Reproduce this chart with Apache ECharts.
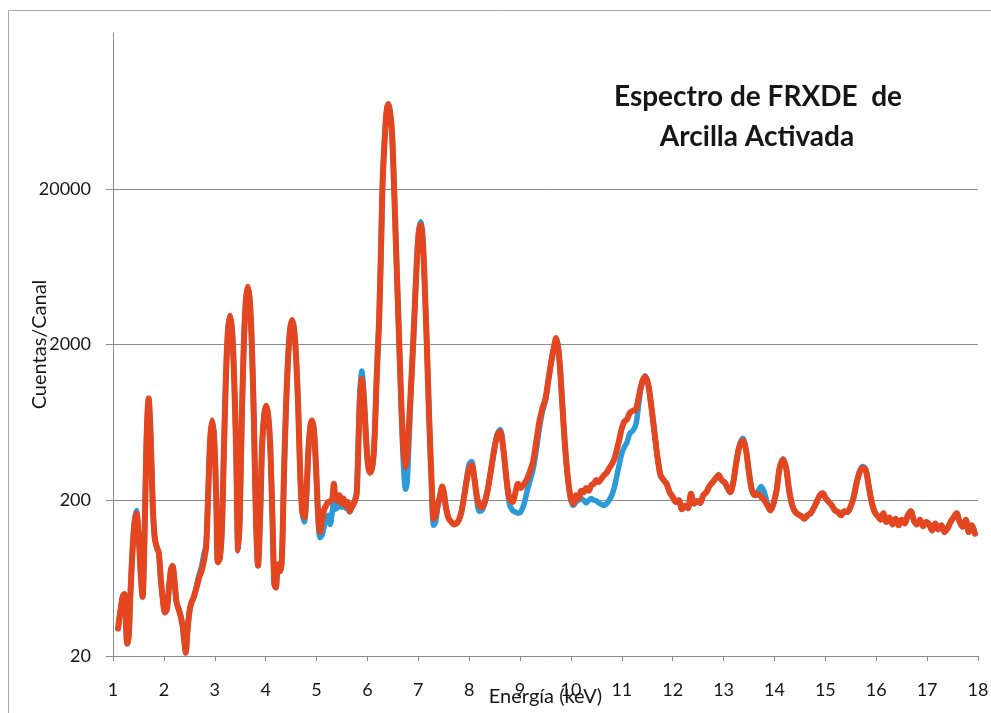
<!DOCTYPE html>
<html>
<head>
<meta charset="utf-8">
<title>Espectro de FRXDE de Arcilla Activada</title>
<script src="https://cdn.jsdelivr.net/npm/echarts@6/dist/echarts.min.js"></script>
<style>
  html, body { margin: 0; padding: 0; background: #ffffff; }
  #chart { width: 991px; height: 713px; }
</style>
</head>
<body>
<div id="chart"></div>
<script>
// Energy axis ticks (keV) and count ticks (log scale)
const energyTicks = [1, 2, 3, 4, 5, 6, 7, 8, 9, 10, 11, 12, 13, 14, 15, 16, 17, 18];
const countTicks = [20, 200, 2000, 20000];

// Spectrum of the activated clay, second measurement [energy keV, counts/channel]
const spectrumRed = [
  [1.10,30],[1.13,36],[1.16,42],[1.19,48],[1.22,50],[1.25,35],[1.28,24],[1.31,27],[1.34,48],[1.38,90],
  [1.42,140],[1.46,165],[1.50,125],[1.54,72],[1.58,48],[1.62,120],[1.66,500],[1.70,900],[1.74,520],[1.78,190],
  [1.82,115],[1.86,100],[1.90,92],[1.94,62],[1.98,46],[2.02,38],[2.06,40],[2.10,55],[2.14,72],[2.17,76],
  [2.21,60],[2.25,44],[2.29,40],[2.33,36],[2.37,31],[2.40,25],[2.43,21],[2.46,28],[2.50,38],[2.54,44],
  [2.58,47],[2.62,52],[2.66,58],[2.70,65],[2.74,70],[2.78,80],[2.83,100],[2.87,220],[2.91,490],[2.95,650],
  [2.99,490],[3.03,200],[3.06,80],[3.10,85],[3.14,130],[3.18,420],[3.22,1260],[3.26,2460],[3.30,3060],[3.34,2460],
  [3.38,1260],[3.42,420],[3.46,95],[3.49,150],[3.53,640],[3.57,1940],[3.61,3780],[3.65,4700],[3.69,3780],[3.73,1940],
  [3.77,640],[3.81,150],[3.85,76],[3.89,150],[3.93,445],[3.97,700],[4.01,810],[4.05,700],[4.09,445],[4.13,170],
  [4.17,58],[4.20,55],[4.23,72],[4.26,78],[4.29,70],[4.32,85],[4.36,290],[4.40,790],[4.44,1620],[4.48,2490],
  [4.52,2870],[4.56,2490],[4.60,1620],[4.64,790],[4.68,290],[4.72,170],[4.76,155],[4.80,220],[4.84,420],[4.88,600],
  [4.91,650],[4.95,560],[4.99,330],[5.03,170],[5.07,125],[5.11,150],[5.15,175],[5.19,185],[5.23,195],[5.27,197],
  [5.31,205],[5.34,255],[5.37,210],[5.41,200],[5.45,215],[5.49,190],[5.53,205],[5.57,185],[5.61,195],[5.65,170],
  [5.69,180],[5.73,190],[5.76,200],[5.79,220],[5.82,420],[5.85,850],[5.89,1200],[5.93,900],[5.97,520],[6.01,340],
  [6.05,300],[6.09,320],[6.12,380],[6.15,600],[6.18,1180],[6.20,1700],[6.23,2870],[6.27,8900],[6.30,22500],[6.35,48000],
  [6.38,64000],[6.41,70000],[6.44,64000],[6.48,48000],[6.52,22500],[6.56,8900],[6.61,2870],[6.65,1180],[6.69,550],[6.72,380],
  [6.75,325],[6.78,380],[6.81,560],[6.84,850],[6.87,1300],[6.92,2870],[6.97,6700],[7.01,10500],[7.05,11800],[7.08,10200],
  [7.11,6700],[7.14,3600],[7.17,1900],[7.21,730],[7.26,270],[7.30,152],[7.34,160],[7.38,185],[7.43,215],[7.47,245],
  [7.51,215],[7.55,175],[7.60,152],[7.65,145],[7.70,140],[7.75,142],[7.80,150],[7.85,170],[7.90,210],[7.95,265],
  [8.00,320],[8.05,335],[8.10,280],[8.15,215],[8.20,185],[8.25,180],[8.30,192],[8.36,230],[8.42,300],[8.48,400],
  [8.55,520],[8.61,550],[8.67,430],[8.73,280],[8.79,205],[8.85,195],[8.91,225],[8.96,255],[9.02,240],[9.08,255],
  [9.14,275],[9.20,310],[9.26,360],[9.32,480],[9.38,640],[9.44,780],[9.50,900],[9.56,1200],[9.62,1600],[9.67,1950],
  [9.71,2200],[9.75,1900],[9.79,1350],[9.85,650],[9.90,380],[9.95,260],[10.00,205],[10.05,190],[10.10,215],[10.15,205],
  [10.20,230],[10.25,225],[10.30,240],[10.35,230],[10.40,250],[10.45,255],[10.50,270],[10.55,262],[10.60,275],[10.65,290],
  [10.70,300],[10.75,320],[10.80,340],[10.85,365],[10.90,420],[10.95,490],[11.00,580],[11.05,640],[11.10,660],[11.16,730],
  [11.22,750],[11.28,770],[11.34,950],[11.40,1150],[11.46,1240],[11.52,1100],[11.58,800],[11.64,550],[11.70,380],[11.76,290],
  [11.82,270],[11.88,255],[11.94,225],[12.00,210],[12.06,195],[12.12,200],[12.18,175],[12.24,185],[12.30,178],[12.36,220],
  [12.42,190],[12.48,198],[12.54,192],[12.60,215],[12.66,225],[12.72,246],[12.78,260],[12.84,275],[12.90,290],[12.96,270],
  [13.02,260],[13.08,240],[13.13,225],[13.19,260],[13.25,350],[13.31,440],[13.38,485],[13.44,420],[13.50,300],[13.56,230],
  [13.62,215],[13.68,220],[13.74,210],[13.80,200],[13.86,185],[13.92,172],[13.98,190],[14.04,230],[14.10,320],[14.17,365],
  [14.23,320],[14.29,230],[14.35,185],[14.41,168],[14.47,162],[14.53,158],[14.59,152],[14.65,160],[14.71,165],[14.77,178],
  [14.83,195],[14.89,215],[14.95,222],[15.01,205],[15.07,195],[15.13,185],[15.19,172],[15.25,168],[15.31,160],[15.37,170],
  [15.43,168],[15.49,180],[15.55,205],[15.61,255],[15.67,300],[15.73,322],[15.79,315],[15.85,250],[15.91,195],[15.97,168],
  [16.03,158],[16.09,150],[16.14,165],[16.20,145],[16.26,155],[16.32,140],[16.38,152],[16.44,138],[16.50,150],[16.56,142],
  [16.62,160],[16.68,170],[16.74,148],[16.80,140],[16.86,150],[16.92,136],[16.98,145],[17.04,140],[17.10,128],[17.16,142],
  [17.22,130],[17.28,138],[17.34,125],[17.40,132],[17.46,145],[17.52,155],[17.58,165],[17.64,145],[17.70,135],[17.76,150],
  [17.82,125],[17.88,138],[17.94,122]
];

// Spectrum of the activated clay, first measurement [energy keV, counts/channel]
const spectrumBlue = [
  [1.10,30],[1.13,36],[1.16,42],[1.19,48],[1.22,50],[1.25,35],[1.28,24],[1.31,27],[1.34,48],[1.38,92],
  [1.42,145],[1.46,172],[1.50,125],[1.54,72],[1.58,48],[1.62,120],[1.66,500],[1.70,900],[1.74,520],[1.78,190],
  [1.82,115],[1.86,100],[1.90,92],[1.94,62],[1.98,46],[2.02,38],[2.06,40],[2.10,55],[2.14,72],[2.17,76],
  [2.21,60],[2.25,44],[2.29,40],[2.33,36],[2.37,31],[2.40,25],[2.43,21],[2.46,28],[2.50,38],[2.54,44],
  [2.58,47],[2.62,52],[2.66,60],[2.70,68],[2.74,75],[2.78,88],[2.83,104],[2.87,220],[2.91,490],[2.95,650],
  [2.99,490],[3.03,200],[3.06,80],[3.10,85],[3.14,130],[3.18,420],[3.22,1260],[3.26,2460],[3.30,3060],[3.34,2460],
  [3.38,1260],[3.42,420],[3.46,95],[3.49,150],[3.53,640],[3.57,1940],[3.61,3780],[3.65,4700],[3.69,3780],[3.73,1940],
  [3.77,640],[3.81,150],[3.85,76],[3.89,150],[3.93,445],[3.97,700],[4.01,810],[4.05,700],[4.09,445],[4.13,170],
  [4.17,58],[4.20,55],[4.23,72],[4.26,78],[4.29,70],[4.32,85],[4.36,290],[4.40,790],[4.44,1620],[4.48,2490],
  [4.52,2870],[4.56,2490],[4.60,1620],[4.64,790],[4.68,290],[4.72,165],[4.76,145],[4.80,200],[4.84,400],[4.88,600],
  [4.91,650],[4.95,560],[4.99,320],[5.03,150],[5.07,115],[5.11,120],[5.15,135],[5.19,150],[5.23,160],[5.27,140],
  [5.31,170],[5.34,205],[5.37,175],[5.41,180],[5.45,195],[5.49,180],[5.53,195],[5.57,178],[5.61,190],[5.65,168],
  [5.69,178],[5.73,190],[5.76,205],[5.79,230],[5.82,450],[5.85,950],[5.89,1350],[5.93,950],[5.97,530],[6.01,340],
  [6.05,300],[6.09,320],[6.12,380],[6.15,600],[6.18,1180],[6.20,1700],[6.23,2870],[6.27,8900],[6.30,22500],[6.35,48000],
  [6.38,64000],[6.41,70000],[6.44,64000],[6.48,48000],[6.52,22500],[6.56,8900],[6.61,2870],[6.65,1100],[6.69,460],[6.72,290],
  [6.75,235],[6.78,260],[6.81,420],[6.84,720],[6.87,1250],[6.92,2870],[6.97,6700],[7.01,10800],[7.05,12300],[7.08,10400],
  [7.11,6700],[7.14,3600],[7.17,1900],[7.21,730],[7.26,260],[7.30,138],[7.34,145],[7.38,180],[7.43,215],[7.47,245],
  [7.51,215],[7.55,175],[7.60,152],[7.65,145],[7.70,140],[7.75,142],[7.80,150],[7.85,170],[7.90,215],[7.95,275],
  [8.00,340],[8.05,355],[8.10,280],[8.15,200],[8.20,170],[8.25,172],[8.30,188],[8.36,230],[8.42,300],[8.48,400],
  [8.55,530],[8.61,570],[8.67,430],[8.73,275],[8.79,190],[8.85,172],[8.91,168],[8.96,165],[9.02,170],[9.08,190],
  [9.14,230],[9.20,270],[9.26,320],[9.32,420],[9.38,580],[9.44,740],[9.50,880],[9.56,1200],[9.62,1600],[9.67,1950],
  [9.71,2200],[9.75,1900],[9.79,1350],[9.85,650],[9.90,380],[9.95,255],[10.00,200],[10.05,185],[10.10,195],[10.15,200],
  [10.20,205],[10.25,200],[10.30,192],[10.35,200],[10.40,205],[10.45,200],[10.50,198],[10.55,192],[10.60,188],[10.65,185],
  [10.70,190],[10.75,200],[10.80,215],[10.85,240],[10.90,285],[10.95,340],[11.00,400],[11.05,440],[11.10,470],[11.16,540],
  [11.22,560],[11.28,620],[11.34,870],[11.40,1150],[11.46,1260],[11.52,1100],[11.58,800],[11.64,550],[11.70,380],[11.76,290],
  [11.82,270],[11.88,255],[11.94,225],[12.00,210],[12.06,195],[12.12,200],[12.18,175],[12.24,185],[12.30,178],[12.36,220],
  [12.42,190],[12.48,198],[12.54,192],[12.60,215],[12.66,225],[12.72,246],[12.78,260],[12.84,275],[12.90,290],[12.96,270],
  [13.02,260],[13.08,240],[13.13,225],[13.19,260],[13.25,355],[13.31,450],[13.38,500],[13.44,425],[13.50,300],[13.56,230],
  [13.62,215],[13.68,230],[13.74,245],[13.80,225],[13.86,190],[13.92,172],[13.98,190],[14.04,230],[14.10,320],[14.17,370],
  [14.23,320],[14.29,230],[14.35,185],[14.41,168],[14.47,162],[14.53,158],[14.59,152],[14.65,160],[14.71,165],[14.77,178],
  [14.83,195],[14.89,215],[14.95,222],[15.01,205],[15.07,195],[15.13,185],[15.19,172],[15.25,168],[15.31,160],[15.37,170],
  [15.43,168],[15.49,180],[15.55,205],[15.61,255],[15.67,305],[15.73,330],[15.79,318],[15.85,250],[15.91,195],[15.97,168],
  [16.03,158],[16.09,150],[16.14,165],[16.20,145],[16.26,155],[16.32,140],[16.38,152],[16.44,138],[16.50,150],[16.56,142],
  [16.62,160],[16.68,170],[16.74,148],[16.80,140],[16.86,150],[16.92,136],[16.98,145],[17.04,140],[17.10,128],[17.16,142],
  [17.22,130],[17.28,138],[17.34,125],[17.40,132],[17.46,145],[17.52,155],[17.58,165],[17.64,145],[17.70,135],[17.76,150],
  [17.82,125],[17.88,138],[17.94,122]
];

const titleLines = ['Espectro de FRXDE  de', 'Arcilla Activada'];

const FONT = 'Lato, "Open Sans", sans-serif';
const GRID_GREY = '#8c8c8c';
const TEXT_DARK = '#161616';

const chart = echarts.init(document.getElementById('chart'), null, { renderer: 'canvas' });

chart.setOption({
  animation: false,
  backgroundColor: '#ffffff',
  grid: { left: 113, right: 13, top: 33, bottom: 57, containLabel: false, outerBoundsMode: 'none' },
  graphic: [
    {
      type: 'rect', z: -10, silent: true,
      shape: { x: 8.5, y: 10.5, width: 1000, height: 720 },
      style: { fill: 'none', stroke: '#a9a9a9', lineWidth: 1 }
    },
    {
      type: 'text', x: 758, y: 97, z: 10,
      style: { text: titleLines[0], fontFamily: FONT, fontWeight: 'bold', fontSize: 28, fill: TEXT_DARK, align: 'center', verticalAlign: 'middle' }
    },
    {
      type: 'text', x: 757, y: 137, z: 10,
      style: { text: titleLines[1], fontFamily: FONT, fontWeight: 'bold', fontSize: 28, fill: TEXT_DARK, align: 'center', verticalAlign: 'middle' }
    }
  ],
  xAxis: {
    type: 'value',
    min: energyTicks[0],
    max: energyTicks[energyTicks.length - 1],
    interval: 1,
    name: 'Energía (keV)',
    nameLocation: 'middle',
    nameGap: 31,
    nameMoveOverlap: false,
    nameTextStyle: { fontFamily: FONT, fontSize: 20, color: TEXT_DARK },
    axisLine: { show: true, lineStyle: { color: GRID_GREY, width: 1 } },
    axisTick: { show: true, inside: false, length: 5, lineStyle: { color: GRID_GREY } },
    axisLabel: {
      margin: 25, fontFamily: FONT, fontSize: 18, color: TEXT_DARK,
      formatter: v => String(v)
    },
    splitLine: { show: false }
  },
  yAxis: {
    type: 'log',
    logBase: 10,
    min: 20,
    max: 200000,
    name: 'Cuentas/Canal',
    nameLocation: 'middle',
    nameGap: 63,
    nameMoveOverlap: false,
    nameTextStyle: { fontFamily: FONT, fontSize: 20, color: TEXT_DARK },
    axisLine: { show: true, lineStyle: { color: GRID_GREY, width: 1 } },
    axisTick: { show: true, inside: false, length: 7, lineStyle: { color: GRID_GREY }, customValues: countTicks },
    axisLabel: {
      margin: 22, fontFamily: FONT, fontSize: 18, color: TEXT_DARK,
      customValues: countTicks,
      formatter: v => String(Math.round(v))
    },
    splitLine: { show: true, lineStyle: { color: GRID_GREY, width: 1 } }
  },
  series: [
    {
      name: 'Arcilla activada (1)',
      type: 'line',
      data: spectrumBlue,
      showSymbol: false,
      smooth: 0.3,
      lineStyle: { color: '#2b9ad6', width: 5.5, cap: 'round', join: 'round' },
      itemStyle: { color: '#2b9ad6' },
      z: 2
    },
    {
      name: 'Arcilla activada (2)',
      type: 'line',
      data: spectrumRed,
      showSymbol: false,
      smooth: 0.3,
      lineStyle: { color: '#e4461f', width: 6, cap: 'round', join: 'round' },
      itemStyle: { color: '#e4461f' },
      z: 3
    }
  ]
});
</script>
</body>
</html>
